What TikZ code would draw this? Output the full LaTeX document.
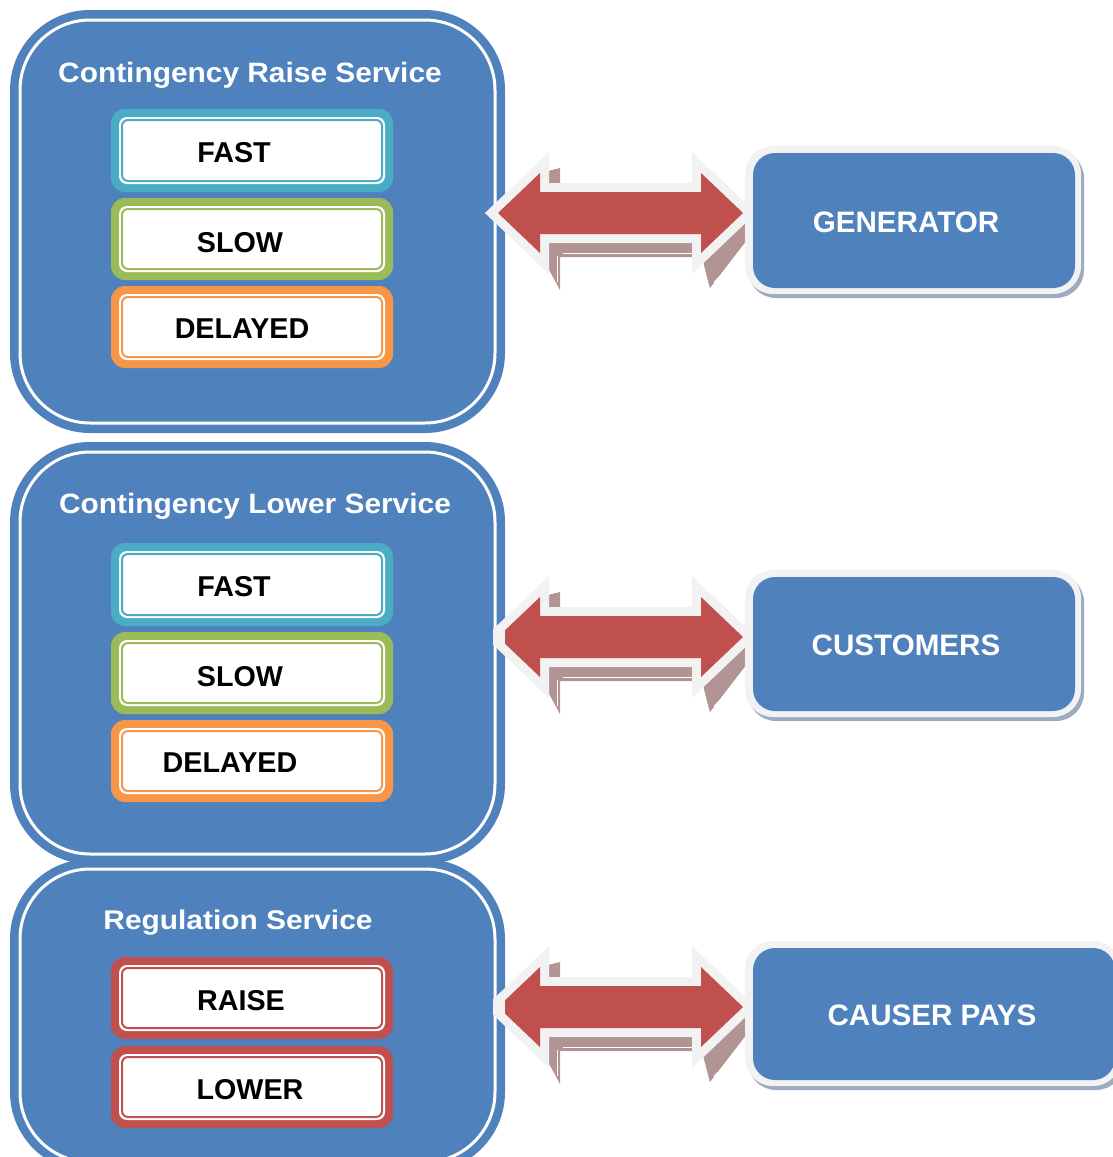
\documentclass[tikz,border=0pt]{standalone}
\usepackage{fontspec}
\setmainfont{Liberation Sans}
\definecolor{boxblue}{HTML}{4F81BD}
\definecolor{arrowred}{HTML}{C0504D}
\definecolor{shadecol}{HTML}{B39494}
\definecolor{lightgray}{HTML}{F2F2F2}
\definecolor{shadowblue}{HTML}{9DAAC0}
\definecolor{svccyan}{HTML}{4BACC6}
\definecolor{svcgreen}{HTML}{9BBB59}
\definecolor{svcorange}{HTML}{F79646}
\definecolor{svcred}{HTML}{C0504D}
\newcommand\svcbox[3]{%
  \fill[#3, rounded corners=14] (111,#1) rectangle (393,#2);
  \fill[white, rounded corners=8] (119,{#1+8}) rectangle (385,{#2-8});
  \draw[#3, line width=2, rounded corners=6] (122,{#1+11}) rectangle (382,{#2-11});
}
\newcommand\bigbox[2]{%
  \fill[boxblue, rounded corners=80] (10,#1) rectangle (505,#2);
  \draw[white, line width=3, rounded corners=70] (20,{#1+10}) rectangle (495,{#2-10});
}
\newcommand\rightbox[4]{%
  \fill[shadowblue, rounded corners=28] ({#1+3},{#2+4}) rectangle ({#3+3},{#4+4});
  \fill[lightgray, rounded corners=28] (#1,#2) rectangle (#3,#4);
  \fill[boxblue, rounded corners=22] ({#1+8},{#2+7}) rectangle ({#3-6},{#4-6});
}
\newcommand\arrowpath{(498,213) -- (540,173) -- (540,192) -- (701,192) -- (701,173) -- (743,213) -- (701,253) -- (701,234) -- (540,234) -- (540,253) -- cycle}
% #1 = vertical shift, #2 = left clip of red fill, #3 = left clip of border
\newcommand\dblarrow[3]{%
  \begin{scope}[shift={(0,#1)}]
    \fill[shadecol] (540,173) -- (560,168) -- (560,290) -- (540,253) -- cycle;
    \fill[shadecol] (540,234) -- (701,234) -- (706,257) -- (560,257) -- cycle;
    \fill[shadecol] (701,234) -- (706,257) -- (710,288) -- (701,253) -- cycle;
    \fill[shadecol] (701,253) -- (743,213) -- (750,236) -- (710,288) -- cycle;
    \draw[white, line width=0.8] (563,253) -- (693,253);
    \draw[white, line width=0.8] (557,256) -- (557,282);
    \draw[white, line width=0.8] (714,282) -- (742,256);
    \begin{scope}
      \clip (#3,150) rectangle (770,280);
      \draw[lightgray, line width=18, line join=miter] \arrowpath;
    \end{scope}
    \begin{scope}
      \clip (#2,150) rectangle (770,280);
      \fill[arrowred] \arrowpath;
    \end{scope}
  \end{scope}
}
\begin{document}
\begin{tikzpicture}[x=1pt, y=-1pt,
  title/.style={text=white, font=\bfseries\fontsize{28}{28}\selectfont, anchor=base, inner sep=0pt},
  lbl/.style={text=black, font=\bfseries\fontsize{28.7}{29}\selectfont, anchor=base, inner sep=0pt},
  rtext/.style={text=white, font=\bfseries\fontsize{29.6}{30}\selectfont, anchor=base, inner sep=0pt}]
\useasboundingbox (0,0) rectangle (1113,1157);
\clip (0,0) rectangle (1113,1157);

% big service boxes
\bigbox{10}{433}
\bigbox{442}{864}
\bigbox{859}{1172}

% sub boxes
\svcbox{109}{192}{svccyan}
\svcbox{198}{280}{svcgreen}
\svcbox{286}{368}{svcorange}
\svcbox{543}{626}{svccyan}
\svcbox{632}{714}{svcgreen}
\svcbox{720}{802}{svcorange}
\svcbox{957}{1039}{svcred}
\svcbox{1046}{1128}{svcred}

% titles
\node[title] (t1) at (250,82) {\scalebox{1.067}[1]{Contingency Raise Service}};
\node[title] (t2) at (255,513) {\scalebox{1.067}[1]{Contingency Lower Service}};
\node[title, font=\bfseries\fontsize{27}{27}\selectfont] (t3) at (238,929) {\scalebox{1.107}[1]{Regulation Service}};

% labels
\node[lbl] (fast1) at (234,162) {FAST};
\node[lbl] (slow1) at (240,252) {SLOW};
\node[lbl] (del1) at (242,338) {DELAYED};
\node[lbl] (fast2) at (234,596) {FAST};
\node[lbl] (slow2) at (240,686) {SLOW};
\node[lbl] (del2) at (230,772) {DELAYED};
\node[lbl] (raise) at (241,1010) {RAISE};
\node[lbl] (lower) at (250,1099) {LOWER};

% double arrows
\dblarrow{0}{480}{480}
\dblarrow{424}{505}{493}
\dblarrow{794}{505}{493}

% right boxes
\rightbox{745}{146}{1081}{294}
\rightbox{745}{570}{1081}{717}
\rightbox{745}{941}{1121}{1086}
\node[rtext] (gen) at (906,232) {GENERATOR};
\node[rtext] (cust) at (906,655) {CUSTOMERS};
\node[rtext] (cp) at (932,1025) {CAUSER PAYS};
\end{tikzpicture}
\end{document}
